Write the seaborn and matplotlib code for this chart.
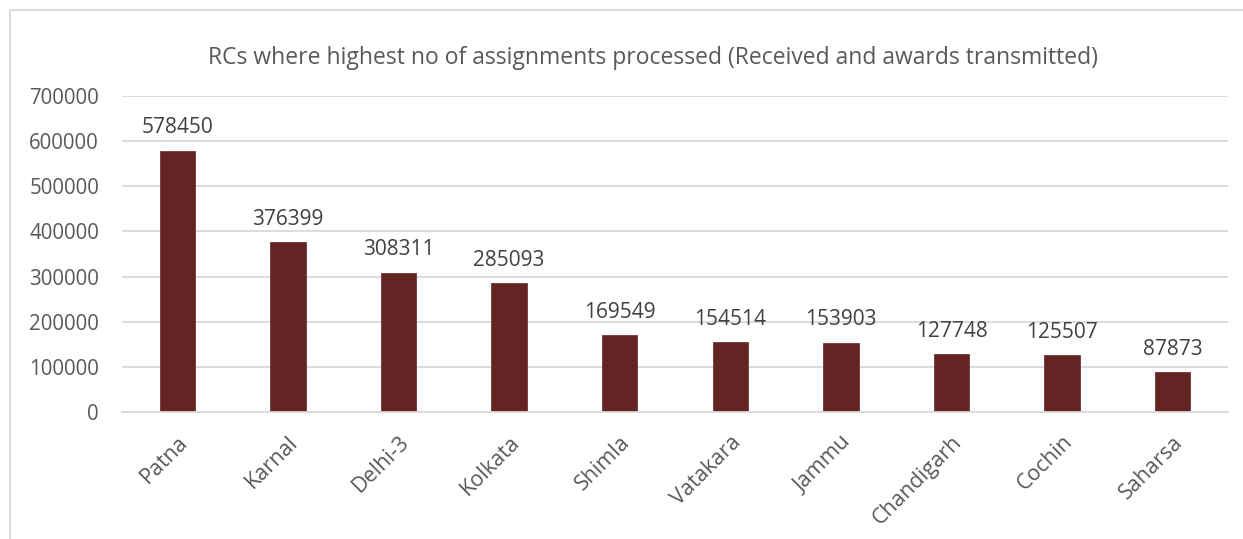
import matplotlib
matplotlib.use("Agg")
import matplotlib.pyplot as plt
import seaborn as sns
import pandas as pd
from matplotlib.lines import Line2D

categories = ["Patna", "Karnal", "Delhi-3", "Kolkata", "Shimla", "Vatakara",
              "Jammu", "Chandigarh", "Cochin", "Saharsa"]
values = [578450, 376399, 308311, 285093, 169549, 154514, 153903, 127748, 125507, 87873]
yticks = [0, 100000, 200000, 300000, 400000, 500000, 600000, 700000]
title = "RCs where highest no of assignments processed (Received and awards transmitted)"

sns.set_theme(style="white")
plt.rcParams['font.family'] = ['Open Sans', 'DejaVu Sans']

df = pd.DataFrame({"RC": categories, "Count": values})

fig = plt.figure(figsize=(12.43, 5.39), dpi=100)
ax = fig.add_axes([122/1243, 1 - 412/539, (1228-122)/1243, (412-96)/539])

sns.barplot(data=df, x="RC", y="Count", color="#632423", width=0.32,
            saturation=1, ax=ax, edgecolor="#632423", linewidth=0.5)

ax.set_ylim(0, 700000)
ax.set_xlim(-0.5, len(categories) - 0.5)
ax.set_yticks(yticks)
ax.set_yticklabels([str(v) for v in yticks], fontsize=14.8, color="#595959")
ax.set_xticks(range(len(categories)))
ax.set_xticklabels(categories, rotation=45, ha="right", rotation_mode="anchor",
                   fontsize=15.5, color="#595959")
ax.tick_params(axis="x", pad=14, length=0)
ax.tick_params(axis="y", pad=16.5, length=0)
ax.yaxis.grid(True, color="#d9d9d9", linewidth=1.3)
ax.set_axisbelow(True)
for s in ["top", "right", "left"]:
    ax.spines[s].set_visible(False)
ax.spines["bottom"].set_color("#d9d9d9")
ax.spines["bottom"].set_linewidth(1.3)
ax.set_xlabel("")
ax.set_ylabel("")

for i, v in enumerate(values):
    ax.annotate(str(v), (i, v), xytext=(0, 9), textcoords="offset points",
                ha="center", va="bottom", fontsize=15, color="#404040")

fig.text(653/1243, 1 - 58/539, title, ha="center", va="center",
         fontsize=16.5, color="#595959")

fig.add_artist(Line2D([10/1243, 10/1243], [0, 1 - 10/539], color="#d9d9d9", lw=1.3))
fig.add_artist(Line2D([10/1243, 1], [1 - 10/539, 1 - 10/539], color="#d9d9d9", lw=1.3))

fig.savefig("out.png", dpi=100)
